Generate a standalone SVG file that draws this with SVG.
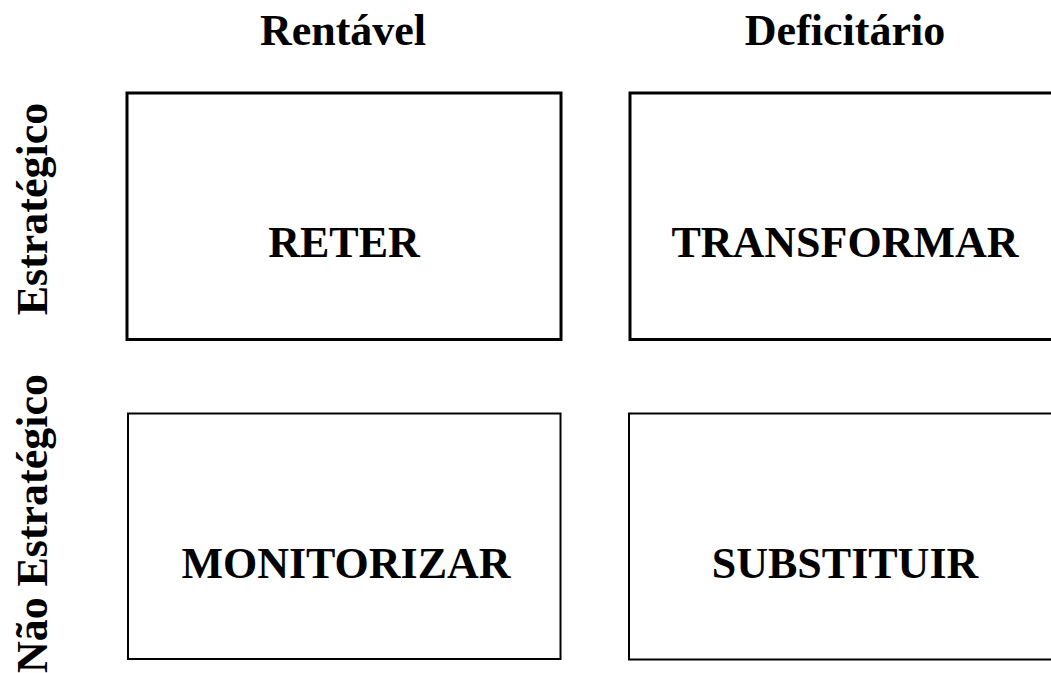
<svg xmlns="http://www.w3.org/2000/svg" width="1051" height="673" viewBox="0 0 1051 673">
<style>
.t{font-family:"Liberation Serif","Times New Roman",serif;font-weight:bold;font-size:44px;fill:#000;text-anchor:middle}
.s{text-anchor:start}
.e{text-anchor:end}
.b1{fill:#fff;stroke:#000;stroke-width:3}
.b2{fill:#fff;stroke:#000;stroke-width:2}
</style>
<rect width="1051" height="673" fill="#fff"/>
<g id="headers">
<text class="t" x="343" y="45">Rentável</text>
<text class="t" x="845" y="45">Deficitário</text>
<text class="t" transform="translate(47,209) rotate(-90)">Estratégico</text>
<g transform="translate(47,0) rotate(-90)">
<text class="t s" x="-673" y="0">Não</text>
<text class="t e" x="-374" y="0">Estratégico</text>
</g>
</g>
<g id="reter"><rect class="b1" x="127" y="93" width="434" height="246.5"/><text class="t" x="344" y="257">RETER</text></g>
<g id="transformar"><rect class="b1" x="630" y="93" width="440" height="246.5"/><text class="t" x="845" y="257">TRANSFORMAR</text></g>
<g id="monitorizar"><rect class="b2" x="128" y="413.5" width="432.5" height="245.5"/><text class="t" x="346" y="578">MONITORIZAR</text></g>
<g id="substituir"><rect class="b2" x="629" y="413.5" width="440" height="246"/><text class="t" x="845" y="578">SUBSTITUIR</text></g>
<g id="connectors"/>
</svg>
